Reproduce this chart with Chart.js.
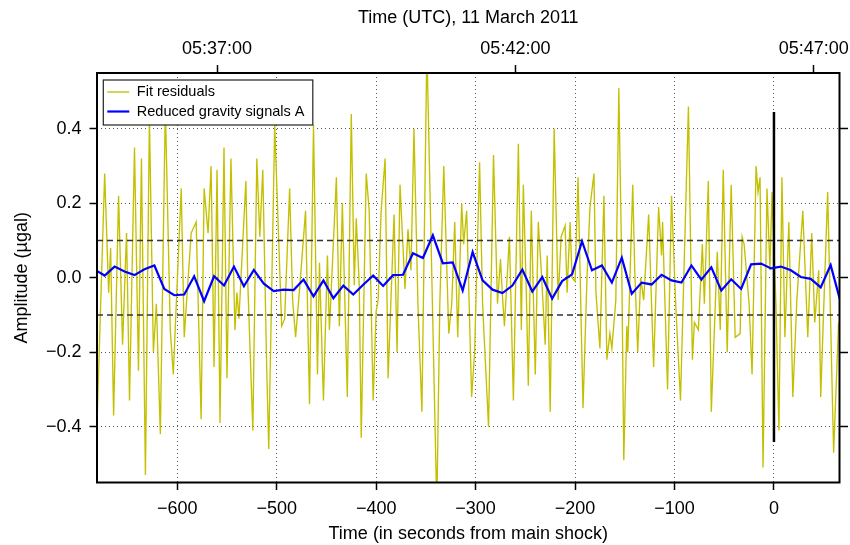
<!DOCTYPE html>
<html lang="en">
<head>
<meta charset="UTF-8">
<title>Fit residuals and reduced gravity signals</title>
<script src="https://cdn.jsdelivr.net/npm/chart.js@4"></script>
<style>
  html, body { margin: 0; padding: 0; background: #fff; }
  #wrap { width: 850px; height: 545px; }
</style>
</head>
<body>
<div id="wrap"><canvas id="gravityChart" width="850" height="545"></canvas></div>
<script>
// seconds from main shock
const xMin = -680.7, xMax = 65.9;
const xTicks = [-600, -500, -400, -300, -200, -100, 0];
const yTicks = [-0.4, -0.2, 0, 0.2, 0.4];
// upper axis (UTC clock time)
const topTickTimes = [-560, -260, 40];
const topTickLabels = ['05:37:00', '05:42:00', '05:47:00'];

// fit residuals (µgal)
const residTime = [
  -681, -673, -669, -667, -664, -659, -655, -651, -648, -643, -639, -636,
  -632, -628, -624, -621, -617, -612, -607, -604, -596, -593, -586, -581,
  -576, -573, -569, -566, -563, -560, -557, -553,
  -550, -546, -542, -540, -538, -531, -529, -524, -520, -517, -514, -510,
  -508, -502, -495, -492, -487, -484, -481, -477, -471, -467, -463, -459,
  -457, -453, -449, -447, -440, -437, -434, -429,
  -425, -422, -420, -417, -415, -410, -407, -403, -400, -398, -395, -391,
  -388, -382, -379, -376, -371, -368, -365, -362, -358, -354, -349, -339,
  -336, -332, -327, -324, -321, -318, -314, -312, -309, -304, -301,
  -296, -293, -287, -282, -278, -275, -273, -271, -266, -262, -257, -254,
  -252, -249, -247, -244, -240, -237, -234, -230, -228, -225, -221, -217,
  -214, -210, -208, -205, -203, -200, -197, -192, -188, -185, -181, -179,
  -175, -171, -168, -165, -163, -159, -156, -153, -151, -148, -147, -142,
  -140, -137, -134, -131, -126, -121, -116, -113, -112, -107, -103, -99,
  -94, -86, -82, -80, -76, -72, -70, -66, -63, -57, -54, -51,
  -47, -43, -39, -34, -32, -30, -25, -22, -18, -16, -14, -11,
  -7, -4, -2, 2, 5, 8, 11, 15, 19, 23, 29, 34,
  38, 41, 45, 47, 54, 60, 65
];
const residValue = [
  -0.42, 0.28, -0.04, 0.08, -0.37, 0.22, -0.18, 0.12, -0.33, 0.35, -0.25, 0.32,
  -0.53, 0.43, -0.20, -0.07, -0.42, 0.46, -0.14, -0.26, 0.24, -0.16, 0.12, 0.15,
  -0.38, 0.24, 0.12, 0.30, -0.24, 0.29, -0.39, 0.35,
  -0.27, 0.32, -0.14, -0.04, -0.11, 0.26, -0.02, -0.41, 0.32, 0.11, 0.29, -0.25,
  -0.46, 0.41, -0.13, -0.11, 0.24, -0.06, -0.16, -0.03, 0.18, -0.34, 0.41, -0.26,
  0.04, -0.33, 0.06, -0.14, 0.27, -0.13, 0.20, -0.32,
  0.44, -0.02, 0.16, -0.02, -0.43, 0.28, 0.18, -0.33, -0.09, -0.06, 0.18, 0.32,
  -0.27, 0.17, -0.20, 0.25, -0.03, 0.13, 0.02, 0.40, -0.07, -0.36, 0.62, -0.62,
  -0.07, 0.30, -0.15, -0.07, 0.15, -0.16, 0.20, 0.09, 0.18, -0.32, -0.20,
  0.31, -0.07, -0.40, 0.33, -0.07, 0.05, -0.05, -0.13, 0.11, -0.33, 0.36, -0.14,
  0.25, -0.04, -0.29, 0.18, -0.26, 0.15, 0.02, -0.18, 0.06, -0.36, 0.40, -0.06,
  0.11, 0.14, -0.04, 0.15, 0.00, -0.01, 0.27, -0.35, 0.00, 0.19, 0.28, -0.04,
  -0.19, 0.22, -0.22, -0.15, -0.19, -0.06, 0.51, 0.02, -0.49, -0.13, -0.20, 0.25,
  0.02, -0.20, 0.00, -0.06, 0.17, -0.24, 0.19, 0.06, 0.15, -0.30, 0.22, -0.06,
  -0.33, 0.46, -0.22, -0.12, -0.14, 0.09, -0.07, 0.26, -0.36, 0.07, -0.14, 0.29,
  -0.20, 0.25, -0.16, -0.15, 0.11, 0.09, -0.07, -0.26, 0.30, 0.23, 0.27, -0.51,
  0.24, 0.02, 0.23, -0.07, -0.41, 0.27, -0.16, 0.15, -0.32, -0.06, 0.18, -0.16,
  0.12, -0.12, 0.02, -0.32, 0.23, -0.47, -0.12
];

// reduced gravity signal A, one value every 10 s
const gravityTime = [
  -683, -673, -663, -653, -643, -633, -623, -613, -603, -593, -583, -573,
  -563, -553, -543, -533, -523, -513, -503, -493, -483, -473, -463, -453,
  -443, -433, -423, -413, -403, -393, -383, -373, -363, -353, -343, -333,
  -323, -313, -303, -293, -283, -273, -263, -253, -243, -233, -223, -213,
  -203, -193, -183, -173, -163, -153, -143, -133, -123, -113, -103, -93,
  -83, -73, -63, -53, -43, -33, -23, -13, -3, 7, 17, 27,
  37, 47, 57, 67
];
const gravityValue = [
  0.022, 0.006, 0.030, 0.017, 0.007, 0.023, 0.033, -0.030, -0.047, -0.045, 0.004, -0.063,
  0.004, -0.021, 0.030, -0.023, 0.021, -0.016, -0.036, -0.032, -0.033, -0.005, -0.050, -0.007,
  -0.055, -0.021, -0.045, -0.019, 0.006, -0.022, 0.007, 0.008, 0.066, 0.053, 0.114, 0.039,
  0.041, -0.034, 0.069, -0.007, -0.032, -0.041, -0.021, 0.022, -0.037, 0.002, -0.056, -0.009,
  0.009, 0.098, 0.020, 0.033, -0.013, 0.054, -0.043, -0.013, -0.018, 0.008, -0.007, -0.013,
  0.033, -0.005, 0.028, -0.034, -0.004, -0.030, 0.036, 0.038, 0.025, 0.030, 0.020, 0.002,
  -0.003, -0.026, 0.034, -0.065
];

// +-0.1 µgal reference levels and the spike at the main shock
const thresholds = [0.1, -0.1];
const shockSpike = [0.445, -0.441];

const FONT = '"Liberation Sans", Arial, Helvetica, sans-serif';
Chart.defaults.font.family = FONT;
Chart.defaults.color = '#000';

function minus(s) { return String(s).replace('-', '\u2212'); }

const residPoints = residTime.map((t, i) => ({x: t, y: residValue[i]}));
const gravityPoints = gravityTime.map((t, i) => ({x: t, y: gravityValue[i]}));

const datasets = [
  {label: 'Fit residuals', data: residPoints, borderColor: '#c4c000', borderWidth: 1.35, order: 4},
  {label: 'Reduced gravity signals A', data: gravityPoints, borderColor: '#0000ff', borderWidth: 2.2, order: 1}
];
thresholds.forEach(v => {
  datasets.push({label: 'level', data: [{x: xMin, y: v}, {x: xMax, y: v}],
    borderColor: '#333', borderWidth: 1.3, borderDash: [6, 4], order: 3});
});
datasets.push({label: 'shock', data: shockSpike.map(v => ({x: 0, y: v})),
  borderColor: '#000', borderWidth: 2.5, order: 2});

// frame round the plot and the boxed legend in the top-left corner
const frameLegend = {
  id: 'frameLegend',
  afterDraw(chart) {
    const {ctx, chartArea: a} = chart;
    ctx.save();
    ctx.strokeStyle = '#000';
    ctx.lineWidth = 2;
    ctx.strokeRect(a.left, a.top, a.right - a.left, a.bottom - a.top);

    const bx = a.left + 6.3, by = a.top + 7, bw = 209.5, bh = 45;
    ctx.fillStyle = '#fff';
    ctx.fillRect(bx, by, bw, bh);
    ctx.strokeStyle = '#222';
    ctx.lineWidth = 1.2;
    ctx.strokeRect(bx, by, bw, bh);

    const items = chart.data.datasets.slice(0, 2);
    items.forEach((ds, i) => {
      const y = by + 12 + i * 19.5;
      ctx.strokeStyle = ds.borderColor;
      ctx.lineWidth = ds.borderWidth;
      ctx.beginPath();
      ctx.moveTo(bx + 4, y);
      ctx.lineTo(bx + 26, y);
      ctx.stroke();
      ctx.fillStyle = '#000';
      ctx.font = '14.5px ' + FONT;
      ctx.textBaseline = 'middle';
      ctx.fillText(ds.label, bx + 33.5, y);
    });
    ctx.restore();
  }
};

const tickFont = {size: 18};
const dotGrid = {color: '#555', lineWidth: 1, tickLength: 7.5, tickColor: '#000', tickWidth: 1.5, tickBorderDash: []};

// keep tick labels from pushing the plot area inwards
function noSidePadding(s) { s.paddingLeft = 0; s.paddingRight = 0; }

new Chart(document.getElementById('gravityChart'), {
  type: 'line',
  data: {datasets: datasets},
  options: {
    responsive: false,
    animation: false,
    layout: {padding: 0},
    elements: {point: {radius: 0}, line: {tension: 0}},
    plugins: {legend: {display: false}, tooltip: {enabled: false}},
    scales: {
      x: {
        type: 'linear', position: 'bottom', min: xMin, max: xMax,
        afterBuildTicks: s => { s.ticks = xTicks.map(v => ({value: v})); },
        afterFit: s => { s.height = 62.5; noSidePadding(s); },
        ticks: {callback: v => minus(v), font: tickFont, padding: 8, maxRotation: 0, autoSkip: false},
        grid: dotGrid,
        border: {display: false, dash: [1, 3]},
        title: {display: true, text: 'Time (in seconds from main shock)', font: tickFont, padding: {top: 0, bottom: 0}}
      },
      x2: {
        type: 'linear', position: 'top', min: xMin, max: xMax,
        afterBuildTicks: s => { s.ticks = topTickTimes.map(v => ({value: v})); },
        afterFit: s => { s.height = 73; noSidePadding(s); },
        ticks: {callback: v => topTickLabels[topTickTimes.indexOf(v)], font: tickFont, padding: 5, maxRotation: 0, autoSkip: false},
        grid: {drawOnChartArea: false, tickLength: 8, tickColor: '#000', tickWidth: 1.5},
        border: {display: false},
        title: {display: true, text: 'Time (UTC), 11 March 2011', font: tickFont, padding: {top: 7, bottom: 0}}
      },
      y: {
        position: 'left', min: -0.55, max: 0.55,
        afterBuildTicks: s => { s.ticks = yTicks.map(v => ({value: v})); },
        afterFit: s => { s.width = 97; },
        ticks: {callback: v => minus(v.toFixed(1)), font: tickFont, padding: 8},
        grid: dotGrid,
        border: {display: false, dash: [1, 3]},
        title: {display: true, text: 'Amplitude (µgal)', font: tickFont, padding: {top: 11, bottom: 0}}
      },
      y2: {
        position: 'right', min: -0.55, max: 0.55,
        afterBuildTicks: s => { s.ticks = yTicks.map(v => ({value: v})); },
        afterFit: s => { s.width = 10.5; },
        ticks: {display: false},
        grid: {drawOnChartArea: false, tickLength: 8.5, tickColor: '#000', tickWidth: 1.5},
        border: {display: false}
      }
    }
  },
  plugins: [frameLegend]
});
</script>
</body>
</html>
